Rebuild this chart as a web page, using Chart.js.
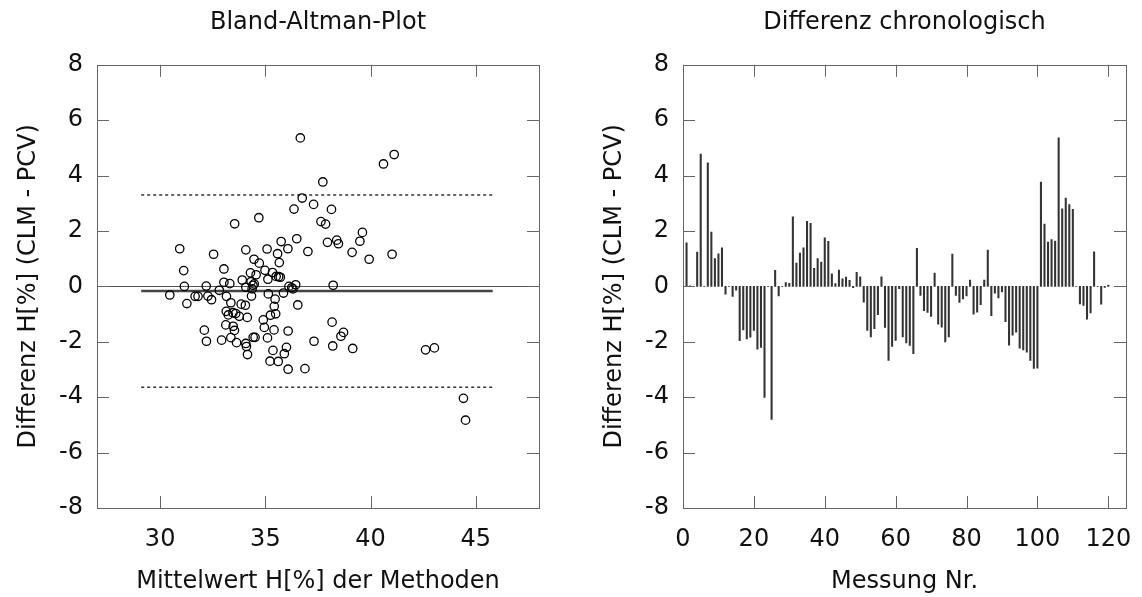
<!DOCTYPE html>
<html>
<head>
<meta charset="utf-8">
<script src="https://cdn.jsdelivr.net/npm/chart.js@4.4.1/dist/chart.umd.min.js"></script>
<style>
  html, body { margin: 0; padding: 0; background: #fff; }
  #wrap { position: relative; width: 1142px; height: 597px; }
  canvas { position: absolute; top: 0; }
</style>
</head>
<body>
<div id="wrap">
  <canvas id="baPlot" width="571" height="597" style="left:0"></canvas>
  <canvas id="seqPlot" width="571" height="597" style="left:571px"></canvas>
</div>
<script>
// --- Bland-Altman data (mean of methods vs. difference) ---
const meanH = [30.46, 30.93, 31.12, 31.15, 31.27, 31.66, 31.80, 32.10, 32.19, 32.20, 32.27, 32.44, 32.54, 32.81,
  32.92, 33.03, 33.03, 33.12, 33.14, 33.15, 33.24, 33.31, 33.36, 33.36, 33.46, 33.47, 33.53, 33.54, 33.59, 33.63,
  33.76, 33.85, 33.90, 34.05, 34.07, 34.07, 34.07, 34.10, 34.14, 34.15, 34.29, 34.32, 34.34, 34.37, 34.41, 34.42,
  34.46, 34.47, 34.51, 34.56, 34.69, 34.71, 34.90, 34.95, 34.98, 35.08, 35.10, 35.12, 35.14, 35.22, 35.24, 35.34,
  35.36, 35.41, 35.42, 35.46, 35.49, 35.51, 35.58, 35.61, 35.63, 35.66, 35.71, 35.75, 35.86, 35.90, 36.00, 36.07,
  36.08, 36.08, 36.12, 36.25, 36.31, 36.36, 36.44, 36.49, 36.54, 36.66, 36.75, 36.88, 37.02, 37.29, 37.31, 37.64,
  37.73, 37.86, 37.95, 38.14, 38.17, 38.20, 38.22, 38.39, 38.47, 38.59, 38.71, 39.12, 39.15, 39.49, 39.61, 39.93,
  40.61, 41.02, 41.12, 42.61, 43.03, 44.41, 44.51];
const diffH = [-0.31, 1.36, 0.57, 0.00, -0.62, -0.36, -0.36, -1.58, 0.01, -1.98, -0.35, -0.48, 1.16, -0.14,
  -1.94, 0.63, 0.15, -1.39, -0.90, -0.36, -1.03, 0.10, -0.59, -1.85, -0.95, -1.44, -1.59, 2.26, -0.98, -2.03,
  -1.08, -0.64, 0.23, -0.68, -0.03, 1.32, -2.06, -2.17, -1.12, -2.46, 0.49, 0.17, -0.35, -0.09, 0.04, -1.84,
  0.98, 0.09, -1.84, 0.42, 2.48, 0.84, -1.21, -1.48, 0.58, 1.35, -1.86, 0.26, -0.27, -2.70, -1.04, 0.50,
  -2.31, -1.57, -0.72, -0.46, -0.99, 0.36, 1.18, -2.71, 0.35, 0.86, 0.33, 1.62, -0.24, -2.43, -2.20, 1.36,
  -1.61, -2.99, 0.00, -0.05, -0.09, 2.79, 0.06, 1.72, -0.67, 5.36, 3.19, -2.97, 1.26, 2.96, -1.98, 2.34,
  3.77, 2.25, 1.59, 2.78, -1.29, -2.15, 0.04, 1.67, 1.54, -1.80, -1.66, 1.23, -2.24, 1.63, 1.95, 0.98,
  4.42, 1.16, 4.76, -2.29, -2.22, -4.04, -4.83];

// mean difference and limits of agreement
const meanDiff = -0.17;
const upperLoA = 3.30;
const lowerLoA = -3.64;
const refLineFrom = 29.1;
const refLineTo = 45.8;

// --- chronological differences (Messung 1..120) ---
const seqDiff = [1.57, 0.02, 0, 1.24, 4.78, 0, 4.46, 1.96, 1.00, 1.18, 1.39, -0.28, 0, -0.36, -0.14, -1.96,
  -1.57, -1.90, -1.83, -1.59, -2.27, -2.20, -4.01, 0, -4.80, 0.58, -0.34, 0, 0.14, 0.11, 2.51, 0.84, 1.20,
  1.39, 2.35, 2.28, 0.65, 1.00, 0.88, 1.75, 1.63, 0.45, 0.10, 0.59, 0.27, 0.34, 0.22, -0.05, 0.51, 0.35,
  -0.57, -1.59, -1.82, -1.53, -1.02, 0.35, -1.48, -2.67, -2.17, -1.95, -0.08, -1.82, -2.04, -2.13, -2.43,
  1.37, -0.33, -0.88, -0.94, -1.08, 0.48, -1.36, -1.47, -2.00, -1.82, 1.17, -0.33, -0.58, -0.45, -0.34,
  0.23, -1.00, -0.93, -0.66, 0.23, 1.31, -1.06, -0.24, -0.42, -0.20, -1.27, -2.12, -1.76, -1.65, -2.23,
  -2.29, -2.37, -2.67, -2.96, -2.95, 3.77, 2.25, 1.60, 1.69, 1.64, 5.36, 2.80, 3.19, 2.95, 2.78, 0, -0.63,
  -0.69, -1.18, -0.96, 1.25, 0, -0.64, -0.04, 0.05];

// tick labels
const yTicks = [-8, -6, -4, -2, 0, 2, 4, 6, 8];
const baXTicks = [30, 35, 40, 45];
const seqXTicks = [0, 20, 40, 60, 80, 100, 120];

const FONT = 'DejaVu Sans';
const TXT = '#111';
const FRAME = '#666';

// frame around plot area with inward tick marks on all sides
const frameTicks = {
  id: 'frameTicks',
  beforeDatasetsDraw(chart, args, opts) {
    if (!opts.zeroLine) return;
    const { ctx, chartArea: a, scales: { y } } = chart;
    const py = Math.round(y.getPixelForValue(0)) + 0.5;
    ctx.save();
    ctx.strokeStyle = '#555';
    ctx.lineWidth = 1;
    ctx.beginPath();
    ctx.moveTo(a.left, py);
    ctx.lineTo(a.right, py);
    ctx.stroke();
    ctx.restore();
  },
  afterDatasetsDraw(chart) {
    const { ctx, chartArea: a, scales: { x, y } } = chart;
    const len = 12;
    ctx.save();
    ctx.strokeStyle = FRAME;
    ctx.lineWidth = 1;
    ctx.beginPath();
    x.ticks.forEach(t => {
      const px = Math.round(x.getPixelForValue(t.value)) + 0.5;
      ctx.moveTo(px, a.bottom); ctx.lineTo(px, a.bottom - len);
      ctx.moveTo(px, a.top); ctx.lineTo(px, a.top + len);
    });
    y.ticks.forEach(t => {
      const py = Math.round(y.getPixelForValue(t.value)) + 0.5;
      ctx.moveTo(a.left, py); ctx.lineTo(a.left + len, py);
      ctx.moveTo(a.right, py); ctx.lineTo(a.right - len, py);
    });
    ctx.stroke();
    ctx.strokeRect(Math.round(a.left) + 0.5, Math.round(a.top) + 0.5,
      Math.round(a.right - a.left), Math.round(a.bottom - a.top));
    ctx.restore();
  }
};

function axisX(min, max, ticks, title, axisHeight) {
  return {
    type: 'linear', min, max, offset: false,
    afterBuildTicks: s => { s.ticks = ticks.map(v => ({ value: v })); },
    afterFit: s => { s.height = axisHeight; s.paddingLeft = 0; s.paddingRight = 0; },
    grid: { display: false, drawTicks: false },
    border: { display: false },
    ticks: { padding: 17, color: TXT, font: { family: FONT, size: 24 }, maxRotation: 0 },
    title: { display: true, text: title, color: TXT, font: { family: FONT, size: 24 },
      padding: { top: 0, bottom: 1 } }
  };
}

function axisY(title, axisWidth, titleOffset) {
  return {
    type: 'linear', min: -8, max: 8,
    afterBuildTicks: s => { s.ticks = yTicks.map(v => ({ value: v })); },
    afterFit: s => { s.width = axisWidth; },
    grid: { display: false, drawTicks: false },
    border: { display: false },
    ticks: { padding: 14, color: TXT, font: { family: FONT, size: 24 } },
    title: { display: true, text: title, color: TXT, font: { family: FONT, size: 24 },
      padding: { top: titleOffset, bottom: 0 } }
  };
}

function titleOpts(text) {
  return {
    display: true, text, color: TXT, fullSize: false,
    font: { family: FONT, size: 24, weight: 'normal' },
    padding: { top: 8, bottom: 28 }
  };
}

const refLine = (yv, dash, width, color) => ({
  type: 'line',
  data: [{ x: refLineFrom, y: yv }, { x: refLineTo, y: yv }],
  borderColor: color, borderWidth: width, borderDash: dash,
  pointRadius: 0, showLine: true, fill: false, order: 2
});

new Chart(document.getElementById('baPlot'), {
  type: 'scatter',
  data: {
    datasets: [
      {
        data: meanH.map((m, i) => ({ x: m, y: diffH[i] })),
        pointStyle: 'circle', pointRadius: 4.2, borderWidth: 1.3,
        borderColor: '#000', backgroundColor: 'rgba(0,0,0,0)', order: 1
      },
      refLine(meanDiff, [], 2.5, '#444'),
      refLine(upperLoA, [3, 3], 1.5, '#333'),
      refLine(lowerLoA, [3, 3], 1.5, '#333')
    ]
  },
  options: {
    responsive: false, animation: false,
    layout: { padding: { left: 0, right: 32, top: 0, bottom: 0 } },
    plugins: {
      legend: { display: false }, tooltip: { enabled: false },
      title: titleOpts('Bland-Altman-Plot'),
      frameTicks: { zeroLine: true }
    },
    scales: {
      x: axisX(27, 48, baXTicks, 'Mittelwert H[%] der Methoden', 89),
      y: axisY('Differenz H[%] (CLM - PCV)', 97, 14)
    }
  },
  plugins: [frameTicks]
});

new Chart(document.getElementById('seqPlot'), {
  type: 'bar',
  data: {
    datasets: [{
      data: seqDiff.map((v, i) => ({ x: i + 1, y: v })),
      backgroundColor: '#333', borderWidth: 0, barThickness: 1.4
    }]
  },
  options: {
    responsive: false, animation: false,
    layout: { padding: { left: 0, right: 16, top: 0, bottom: 0 } },
    plugins: {
      legend: { display: false }, tooltip: { enabled: false },
      title: titleOpts('Differenz chronologisch'),
      frameTicks: { zeroLine: false }
    },
    scales: {
      x: axisX(0, 125, seqXTicks, 'Messung Nr.', 89),
      y: axisY('Differenz H[%] (CLM - PCV)', 112, 29)
    }
  },
  plugins: [frameTicks]
});
</script>
</body>
</html>
